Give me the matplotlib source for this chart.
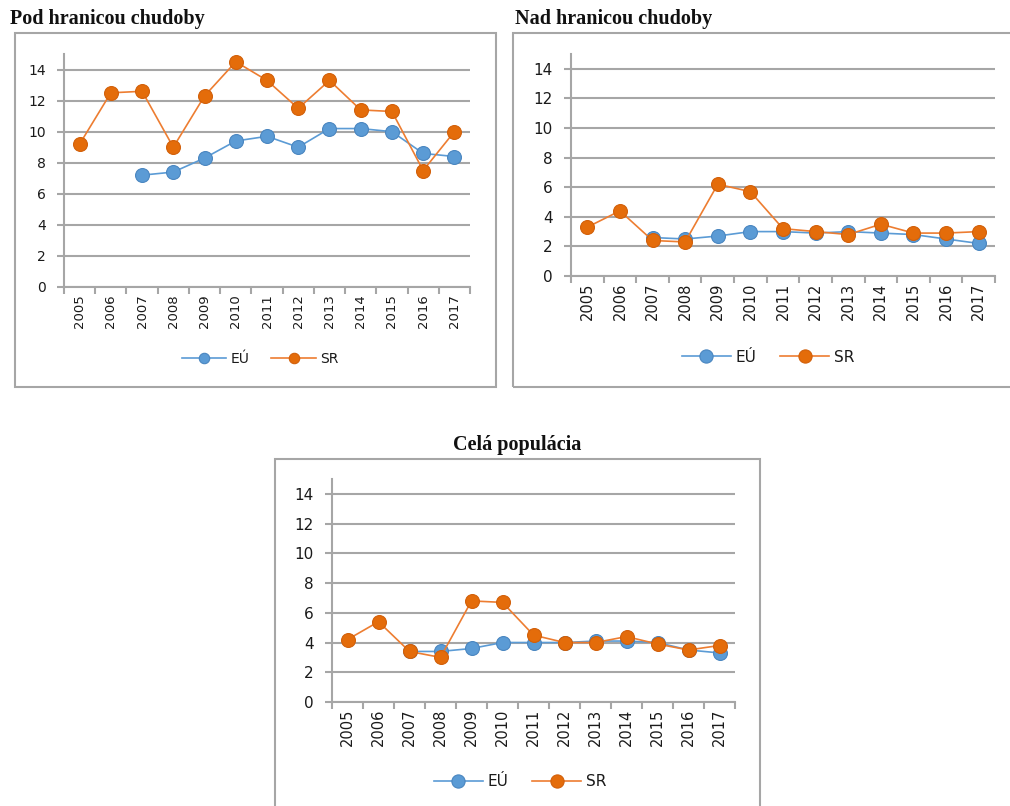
import matplotlib.pyplot as plt
import numpy as np
from matplotlib.patches import Rectangle

roky = [str(r) for r in range(2005, 2018)]

# Pod hranicou chudoby
pod_eu = [np.nan, np.nan, 7.2, 7.4, 8.3, 9.4, 9.7, 9.0, 10.2, 10.2, 10.0, 8.6, 8.4]
pod_sr = [9.2, 12.5, 12.6, 9.0, 12.3, 14.5, 13.3, 11.5, 13.3, 11.4, 11.3, 7.5, 10.0]

# Nad hranicou chudoby
nad_eu = [np.nan, np.nan, 2.6, 2.5, 2.7, 3.0, 3.0, 2.9, 3.0, 2.9, 2.8, 2.5, 2.2]
nad_sr = [3.3, 4.4, 2.4, 2.3, 6.2, 5.7, 3.2, 3.0, 2.8, 3.5, 2.9, 2.9, 3.0]

# Celá populácia
cela_eu = [np.nan, np.nan, 3.4, 3.4, 3.6, 4.0, 4.0, 4.0, 4.1, 4.1, 4.0, 3.5, 3.3]
cela_sr = [4.2, 5.4, 3.4, 3.0, 6.8, 6.7, 4.5, 4.0, 4.0, 4.4, 3.9, 3.5, 3.8]

W, H = 1010, 806
MODRA = '#5B9BD5'
ORANZ = '#ED7D31'
SIVA = '#A6A6A6'
TEXT = '#1a1a1a'

fig = plt.figure(figsize=(W / 100, H / 100), dpi=100)


def px_rect(x0, y0, x1, y1):
    # pixelove suradnice (od laveho horneho rohu) -> suradnice obrazku
    return [x0 / W, 1 - y1 / H, (x1 - x0) / W, (y1 - y0) / H]


def graf(ramik, osi, nadpis, nadpis_xy, nadpis_ha, eu, sr, legenda_xy, fs_y, fs_x, fs_leg, mscale):
    x0, y0, x1, y1 = ramik
    fig.patches.append(Rectangle((x0 / W, 1 - y1 / H), (x1 - x0) / W, (y1 - y0) / H,
                                 transform=fig.transFigure, fill=False,
                                 edgecolor=SIVA, linewidth=1.5, zorder=0))
    fig.text(nadpis_xy[0] / W, 1 - nadpis_xy[1] / H, nadpis, ha=nadpis_ha, va='center',
             fontsize=14.5, fontweight='bold', family='Liberation Serif', color='#111111')

    ax = fig.add_axes(px_rect(*osi))
    x = np.arange(len(roky))
    ax.plot(x, eu, color=MODRA, lw=1.2, marker='o', ms=10,
            markerfacecolor=MODRA, markeredgecolor='#4A86C0', markeredgewidth=0.8,
            label='EÚ', zorder=3)
    ax.plot(x, sr, color=ORANZ, lw=1.2, marker='o', ms=10,
            markerfacecolor='#E46C0A', markeredgecolor='#D2600A', markeredgewidth=0.8,
            label='SR', zorder=4)

    ax.set_xlim(-0.5, len(roky) - 0.5)
    ax.set_ylim(0, 15)
    ax.set_yticks(range(0, 15, 2))
    ax.grid(axis='y', color=SIVA, linewidth=1.5)
    ax.set_axisbelow(True)

    ax.set_xticks(x)
    ax.set_xticklabels(roky, rotation=90, fontsize=fs_x, color=TEXT)
    ax.set_xticks(np.arange(-0.5, len(roky)), minor=True)
    ax.tick_params(axis='x', which='major', length=0, pad=5)
    ax.tick_params(axis='x', which='minor', length=5, width=1.5, color=SIVA)
    ax.tick_params(axis='y', length=5, width=1.5, color=SIVA, labelsize=fs_y,
                   labelcolor=TEXT, pad=8)

    for s in ['top', 'right']:
        ax.spines[s].set_visible(False)
    for s in ['left', 'bottom']:
        ax.spines[s].set_color(SIVA)
        ax.spines[s].set_linewidth(1.5)
    ax.spines['left'].set_zorder(1)

    fig.legend(handles=ax.get_lines(), labels=['EÚ', 'SR'], loc='center',
               bbox_to_anchor=(legenda_xy[0] / W, 1 - legenda_xy[1] / H),
               ncol=2, frameon=False, fontsize=fs_leg, handlelength=3.2,
               columnspacing=1.6, handletextpad=0.3, labelcolor=TEXT,
               markerscale=mscale)
    return ax


graf((15, 33, 496, 387), (64, 54, 470, 287), 'Pod hranicou chudoby', (10, 19), 'left',
     pod_eu, pod_sr, (260, 359), 10, 9.5, 10, 0.75)
graf((513, 33, 1013, 387), (571, 54, 995, 276), 'Nad hranicou chudoby', (515, 19), 'left',
     nad_eu, nad_sr, (768, 357), 11, 10.5, 11, 0.95)
graf((275, 459, 760, 810), (332, 479, 735, 702), 'Celá populácia', (517, 445), 'center',
     cela_eu, cela_sr, (520, 782), 11, 10.5, 11, 0.95)

fig.savefig('out.png', dpi=100, facecolor='white')
